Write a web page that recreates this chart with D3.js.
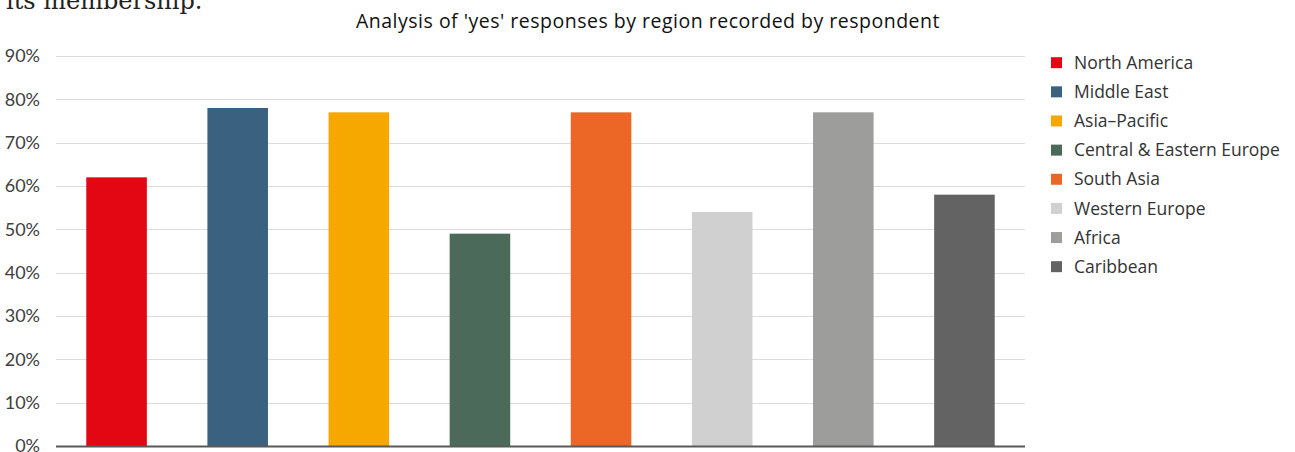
<!DOCTYPE html>
<html>
<head>
<meta charset="utf-8">
<script src="https://cdn.jsdelivr.net/npm/d3@7"></script>
<style>
  html, body { margin: 0; padding: 0; background: #fff; }
  svg { display: block; }
</style>
</head>
<body>
<svg id="chart" width="1295" height="452"></svg>
<script>
const categories = ["North America", "Middle East", "Asia–Pacific", "Central & Eastern Europe", "South Asia", "Western Europe", "Africa", "Caribbean"];
const values = [0.62, 0.78, 0.77, 0.49, 0.77, 0.54, 0.77, 0.58];
const colors = ["#E30613", "#3A6180", "#F6A800", "#4C6A5A", "#EC6726", "#D0D0D0", "#9D9D9B", "#636363"];
const yTicks = [0, 0.1, 0.2, 0.3, 0.4, 0.5, 0.6, 0.7, 0.8, 0.9];
const title = "Analysis of 'yes' responses by region recorded by respondent";
const topText = "its membership.";

const svg = d3.select("#chart");
const font = "Lato, 'Noto Sans', sans-serif";
const font2 = "'Open Sans', 'Noto Sans', sans-serif";

const x = d3.scaleBand().domain(categories).range([56, 1025]).paddingInner(0.5).paddingOuter(0.25);
const y = d3.scaleLinear().domain([0, 0.9]).range([446, 56]);

// cut-off text at top-left
svg.append("text").attr("x", 6).attr("y", 9)
  .attr("font-family", "Georgia, 'DejaVu Serif', serif").attr("font-size", 24)
  .attr("fill", "#222").text(topText);

// title
svg.append("text").attr("x", 648).attr("y", 28).attr("text-anchor", "middle")
  .attr("font-family", font2).attr("font-size", 19.5).attr("letter-spacing", 0.5)
  .attr("fill", "#111").text(title);

// grid
svg.append("g").selectAll("line").data(yTicks.filter(d => d > 0)).join("line")
  .attr("x1", 56).attr("x2", 1025)
  .attr("y1", d => Math.round(y(d)) + 0.5).attr("y2", d => Math.round(y(d)) + 0.5)
  .attr("stroke", "#dcdcdc").attr("stroke-width", 1);

// y axis labels
const yAxis = d3.axisLeft(y).tickValues(yTicks).tickFormat(d3.format(".0%")).tickSize(0).tickPadding(0);
const ya = svg.append("g").attr("transform", "translate(40,0)").call(yAxis);
ya.select(".domain").remove();
ya.selectAll("text").attr("font-family", font).attr("font-size", 18).attr("fill", "#404040");

// bars
svg.append("g").selectAll("rect").data(values).join("rect")
  .attr("x", (d, i) => x(categories[i]))
  .attr("width", x.bandwidth())
  .attr("y", d => y(d))
  .attr("height", d => y(0) - y(d))
  .attr("fill", (d, i) => colors[i]);

// baseline
svg.append("line").attr("x1", 56).attr("x2", 1025).attr("y1", 446.5).attr("y2", 446.5)
  .attr("stroke", "#595959").attr("stroke-width", 2);

// legend
const lg = svg.append("g").selectAll("g").data(categories).join("g")
  .attr("transform", (d, i) => `translate(1051,${62.7 + i * 29.14})`);
lg.append("rect").attr("x", 0).attr("y", -5.5).attr("width", 11).attr("height", 11)
  .attr("fill", (d, i) => colors[i]);
lg.append("text").attr("x", 23).attr("y", 0).attr("dy", "0.35em")
  .attr("font-family", font2).attr("font-size", 17.5).attr("fill", "#333").text(d => d);
</script>
</body>
</html>
